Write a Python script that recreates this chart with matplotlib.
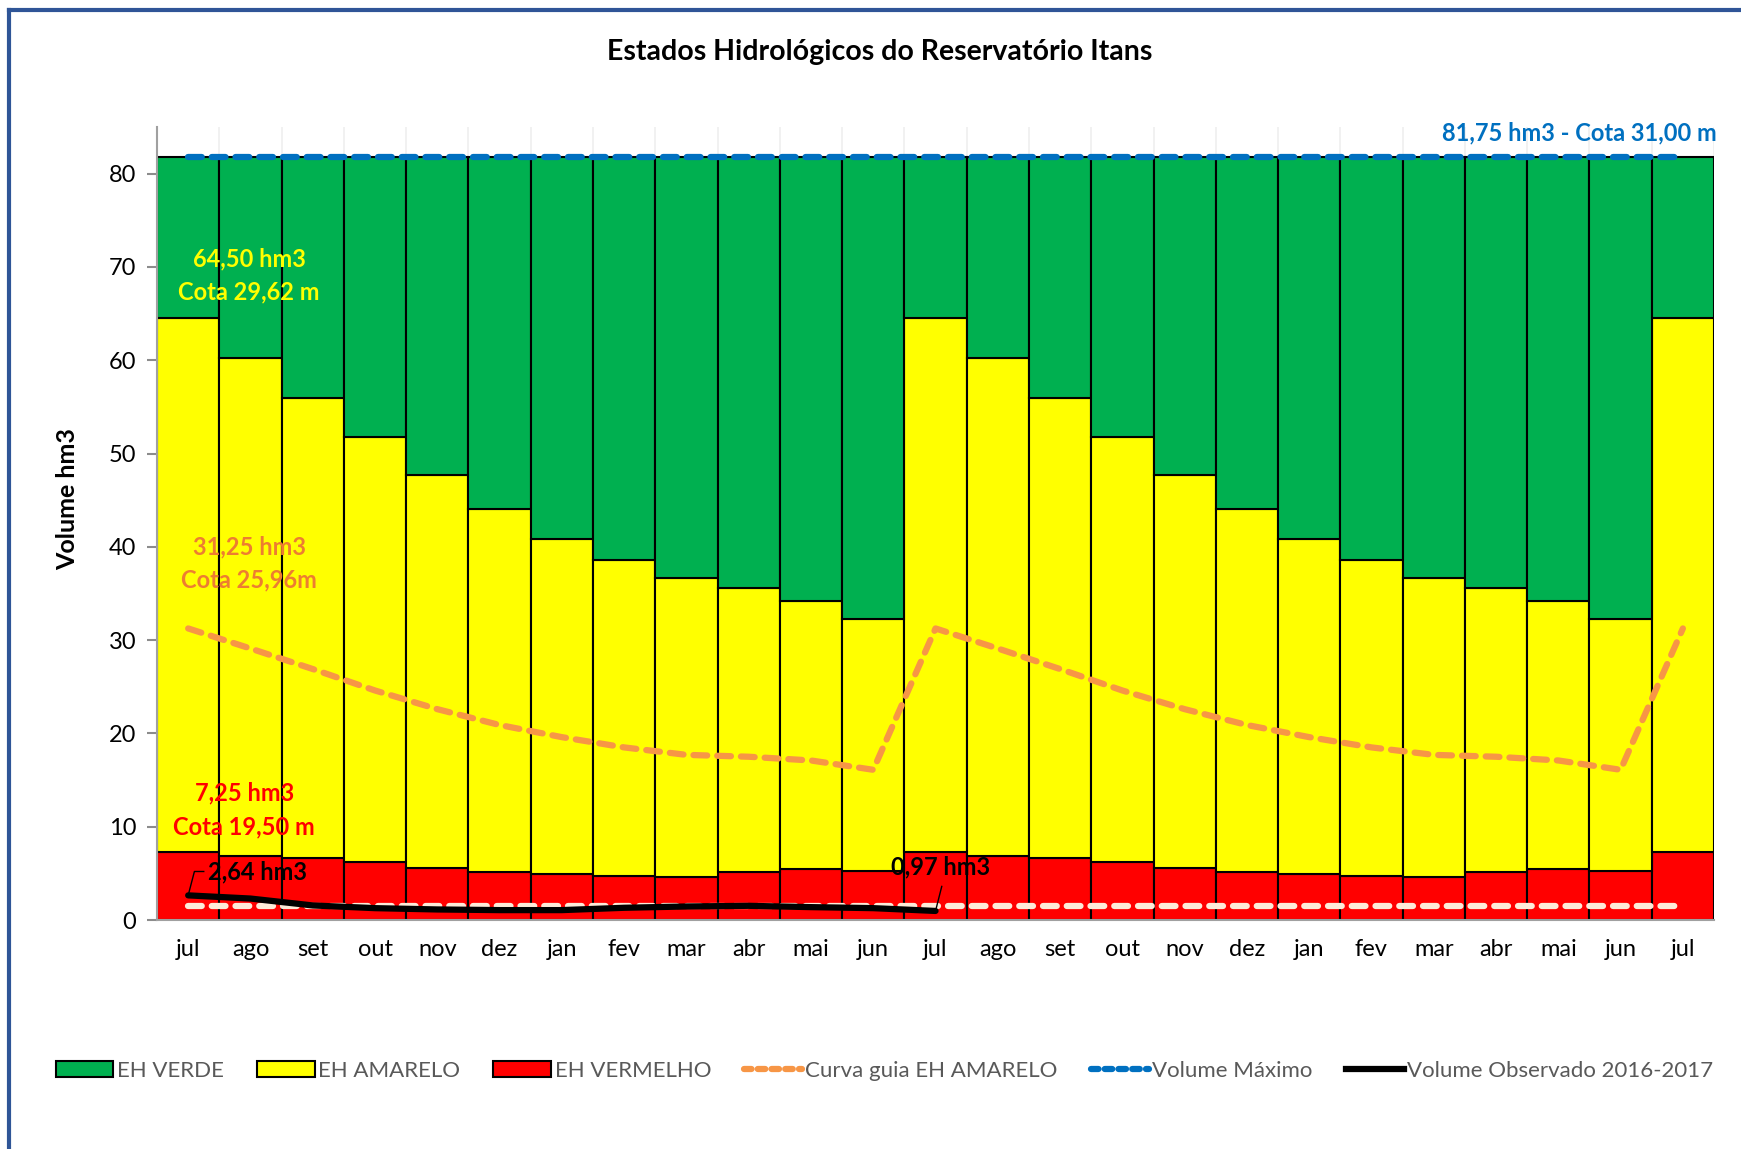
import numpy as np
import matplotlib
matplotlib.use("Agg")
import matplotlib.pyplot as plt
from matplotlib.patches import Rectangle
from matplotlib.lines import Line2D

plt.rcParams['font.family'] = ['Lato', 'DejaVu Sans']

# --- data ---
meses = ['jul', 'ago', 'set', 'out', 'nov', 'dez', 'jan', 'fev', 'mar', 'abr', 'mai', 'jun',
         'jul', 'ago', 'set', 'out', 'nov', 'dez', 'jan', 'fev', 'mar', 'abr', 'mai', 'jun',
         'jul']

# upper limit of EH VERMELHO (hm3)
limite_vermelho = [7.25, 6.89, 6.61, 6.18, 5.58, 5.14, 4.93, 4.76, 4.62, 5.12, 5.44, 5.30,
                   7.25, 6.89, 6.61, 6.18, 5.58, 5.14, 4.93, 4.76, 4.62, 5.12, 5.44, 5.30,
                   7.25]
# upper limit of EH AMARELO (hm3)
limite_amarelo = [64.50, 60.20, 56.00, 51.75, 47.65, 44.00, 40.80, 38.60, 36.70, 35.60, 34.20, 32.25,
                  64.50, 60.20, 56.00, 51.75, 47.65, 44.00, 40.80, 38.60, 36.70, 35.60, 34.20, 32.25,
                  64.50]
volume_maximo = [81.75] * 25
curva_guia = [31.25, 29.10, 26.90, 24.60, 22.60, 20.90, 19.60, 18.50, 17.70, 17.50, 17.10, 16.10,
              31.25, 29.10, 26.90, 24.60, 22.60, 20.90, 19.60, 18.50, 17.70, 17.50, 17.10, 16.10,
              31.25]
volume_minimo = [1.5] * 25
volume_observado = [2.64, 2.30, 1.56, 1.27, 1.13, 1.06, 1.06, 1.31, 1.45, 1.52, 1.38, 1.27, 0.97]

verde = '#00B050'
amarelo = '#FFFF00'
vermelho = '#FF0000'
laranja = '#F79646'
azul = '#0070C0'

x = np.arange(len(meses))
verm = np.array(limite_vermelho)
amar = np.array(limite_amarelo)
vmax = np.array(volume_maximo)

fig = plt.figure(figsize=(17.41, 11.49), dpi=100)
ax = fig.add_axes([0.0902, 0.1993, 0.8943, 0.6902])

ax.bar(x, verm, width=1.0, color=vermelho, edgecolor='black', linewidth=1.5, zorder=2)
ax.bar(x, amar - verm, bottom=verm, width=1.0, color=amarelo, edgecolor='black', linewidth=1.5, zorder=2)
ax.bar(x, vmax - amar, bottom=amar, width=1.0, color=verde, edgecolor='black', linewidth=1.5, zorder=2)

ax.plot(x, curva_guia, color=laranja, lw=4.5, dashes=(2.2, 1.6), dash_capstyle='round', zorder=3)
ax.plot(x, volume_maximo, color=azul, lw=4.5, dashes=(2.2, 1.6), dash_capstyle='round', zorder=3)
ax.plot(x, volume_minimo, color='#FDEBD9', lw=4.5, dashes=(2.2, 1.6), dash_capstyle='round', zorder=3)
ax.plot(x[:len(volume_observado)], volume_observado, color='black', lw=4.5, solid_capstyle='round', zorder=4)

ax.set_xlim(-0.5, len(meses) - 0.5)
ax.set_ylim(0, 85)
ax.set_yticks(range(0, 81, 10))
ax.set_xticks(x)
ax.set_xticklabels(meses)
ax.set_xticks(np.arange(-0.5, len(meses), 0.5), minor=True)
ax.grid(axis='x', which='minor', color='#EFEFEF', lw=1.2, zorder=0)
ax.tick_params(axis='y', labelsize=17, length=7, width=1.5, color='#8C8C8C', pad=8)
ax.tick_params(axis='x', labelsize=17, length=0, pad=14)
ax.tick_params(axis='x', which='minor', length=0)
for s in ['top', 'right']:
    ax.spines[s].set_visible(False)
for s in ['left', 'bottom']:
    ax.spines[s].set_color('#A0A0A0')
    ax.spines[s].set_linewidth(1.5)

ax.set_ylabel('Volume hm3', fontsize=18, fontweight='bold')
ax.yaxis.set_label_coords(-0.05, 0.531)
fig.text(0.505, 0.955, 'Estados Hidrológicos do Reservatório Itans', ha='center', va='center',
         fontsize=20.5, fontweight='bold')

# labels
ax.text(0.98, 70.9, '64,50 hm3', color=amarelo, fontsize=17, fontweight='bold', ha='center', va='center', zorder=5)
ax.text(0.98, 67.3, 'Cota 29,62 m', color=amarelo, fontsize=17, fontweight='bold', ha='center', va='center', zorder=5)
ax.text(0.98, 40.0, '31,25 hm3', color='#ED7D31', fontsize=17, fontweight='bold', ha='center', va='center', zorder=5)
ax.text(0.98, 36.4, 'Cota 25,96m', color='#ED7D31', fontsize=17, fontweight='bold', ha='center', va='center', zorder=5)
ax.text(0.9, 13.6, '7,25 hm3', color=vermelho, fontsize=17, fontweight='bold', ha='center', va='center', zorder=5)
ax.text(0.9, 10.0, 'Cota 19,50 m', color=vermelho, fontsize=17, fontweight='bold', ha='center', va='center', zorder=5)
ax.text(24.55, 84.4, '81,75 hm3 - Cota 31,00 m', color=azul, fontsize=17, fontweight='bold',
        ha='right', va='center', zorder=5)

ax.plot([0, 0.1, 0.25], [volume_observado[0], 5.2, 5.2], color='black', lw=1, zorder=5)
ax.text(0.32, 5.2, '2,64 hm3', color='black', fontsize=17, fontweight='bold', ha='left', va='center', zorder=5)
ax.plot([12, 12.1], [volume_observado[-1], 3.6], color='black', lw=1, zorder=5)
ax.text(12.08, 5.7, '0,97 hm3', color='black', fontsize=17, fontweight='bold', ha='center', va='center', zorder=5)

handles = [
    Rectangle((0, 0), 1, 1, facecolor=verde, edgecolor='black', lw=1.5),
    Rectangle((0, 0), 1, 1, facecolor=amarelo, edgecolor='black', lw=1.5),
    Rectangle((0, 0), 1, 1, facecolor=vermelho, edgecolor='black', lw=1.5),
    Line2D([], [], color=laranja, lw=4.5, dashes=(1.2, 1.0), dash_capstyle='round'),
    Line2D([], [], color=azul, lw=4.5, dashes=(1.2, 1.0), dash_capstyle='round'),
    Line2D([], [], color='black', lw=4.5),
]
labels = ['EH VERDE', 'EH AMARELO', 'EH VERMELHO', 'Curva guia EH AMARELO',
          'Volume Máximo', 'Volume Observado 2016-2017']
leg = fig.legend(handles, labels, loc='center', bbox_to_anchor=(0.508, 0.068), ncol=6,
                 frameon=False, fontsize=16, handlelength=2.6, handletextpad=0.15,
                 columnspacing=1.5, labelcolor='#595959')

# chart border
fig.add_artist(Line2D([0.0052, 0.0052], [0.0, 0.9915], transform=fig.transFigure, color='#2F5597', lw=3))
fig.add_artist(Line2D([0.0052, 1.0], [0.9915, 0.9915], transform=fig.transFigure, color='#2F5597', lw=3))

fig.savefig('out.png', dpi=100)
